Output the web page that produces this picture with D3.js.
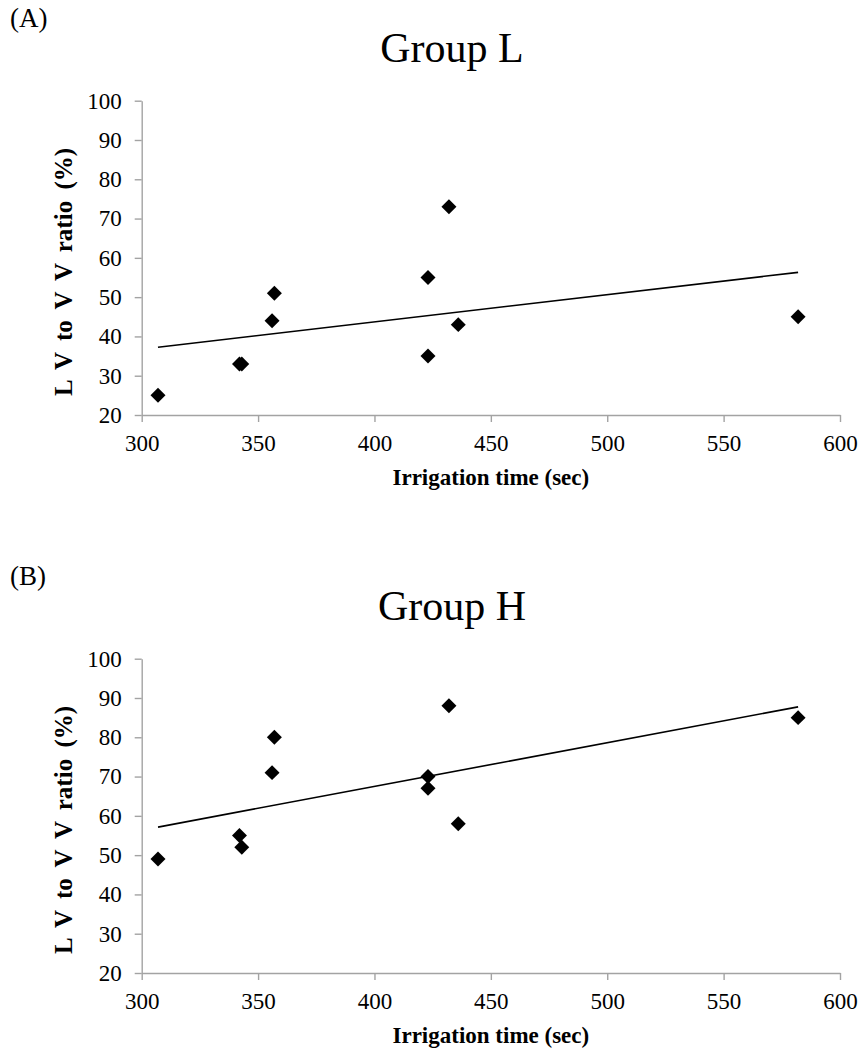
<!DOCTYPE html>
<html>
<head>
<meta charset="utf-8">
<script src="https://cdn.jsdelivr.net/npm/d3@7"></script>
<style>
  body { margin: 0; background: #fff; }
  text { font-family: "Liberation Serif", "Times New Roman", serif; fill: #000; }
</style>
</head>
<body>
<svg width="862" height="1052"></svg>
<script>
// values
const irrigationTime = [307, 342, 343, 356, 357, 423, 423, 432, 436, 582];
const groupL = [25, 33, 33, 44, 51, 55, 35, 73, 43, 45];
const groupH = [49, 55, 52, 71, 80, 70, 67, 88, 58, 85];
const xTicks = [300, 350, 400, 450, 500, 550, 600];
const yTicks = [20, 30, 40, 50, 60, 70, 80, 90, 100];
const panels = [
  {tag: "(A)", title: "Group L", values: groupL},
  {tag: "(B)", title: "Group H", values: groupH}
];

const svg = d3.select("svg");
svg.append("rect").attr("width", 862).attr("height", 1052).attr("fill", "#fff");

const plotLeft = 141.7, plotRight = 840, plotTop = 100.7, plotBottom = 415;
const panelStep = 558;

const x = d3.scaleLinear().domain([300, 600]).range([plotLeft, plotRight]);
const y = d3.scaleLinear().domain([20, 100]).range([plotBottom, plotTop]);

// least squares fit, same as the trendline in the source
function fit(xs, ys) {
  const mx = d3.mean(xs), my = d3.mean(ys);
  let sxy = 0, sxx = 0;
  xs.forEach((v, i) => { sxy += (v - mx) * (ys[i] - my); sxx += (v - mx) * (v - mx); });
  const b = sxy / sxx;
  return v => my + b * (v - mx);
}

const axisColor = "#a3a3a3";

panels.forEach((p, k) => {
  const g = svg.append("g").attr("transform", `translate(0,${k * panelStep})`);

  g.append("text").attr("x", 10).attr("y", 27).style("font-size", "27px").text(p.tag);
  g.append("text").attr("x", 452).attr("y", 61.7).attr("text-anchor", "middle")
    .style("font-size", "42px").text(p.title);

  const xAxis = g.append("g").attr("transform", `translate(0,${plotBottom})`)
    .call(d3.axisBottom(x).tickValues(xTicks).tickSize(7).tickSizeOuter(0).tickPadding(13));
  const yAxis = g.append("g").attr("transform", `translate(${plotLeft},0)`)
    .call(d3.axisLeft(y).tickValues(yTicks).tickSize(7).tickSizeOuter(0).tickPadding(13));

  [xAxis, yAxis].forEach(a => {
    a.attr("font-family", null).attr("font-size", null);
    a.select(".domain").attr("stroke", axisColor).attr("stroke-width", 1.4);
    a.selectAll(".tick line").attr("stroke", axisColor).attr("stroke-width", 1.4);
    a.selectAll(".tick text").style("font-family", "'Liberation Serif', 'Times New Roman', serif")
      .style("font-size", "23px").attr("fill", "#111");
  });

  g.append("text").attr("x", (plotLeft + plotRight) / 2).attr("y", 485).attr("text-anchor", "middle")
    .style("font-size", "23px").style("font-weight", "bold").text("Irrigation time (sec)");

  g.append("text").attr("transform", "translate(72,272) rotate(-90)")
    .attr("text-anchor", "middle").style("font-size", "25px").style("font-weight", "bold")
    .style("word-spacing", "5px")
    .text("L V to V V ratio (%)");

  const f = fit(irrigationTime, p.values);
  const x0 = d3.min(irrigationTime), x1 = d3.max(irrigationTime);
  g.append("line")
    .attr("x1", x(x0)).attr("y1", y(f(x0)))
    .attr("x2", x(x1)).attr("y2", y(f(x1)))
    .attr("stroke", "#000").attr("stroke-width", 1.6);

  const diamond = d3.symbol(d3.symbolSquare, 112);
  g.selectAll(".pt").data(p.values).enter().append("path")
    .attr("d", diamond)
    .attr("transform", (d, i) => `translate(${x(irrigationTime[i])},${y(d)}) rotate(45)`)
    .attr("fill", "#000");
});
</script>
</body>
</html>
